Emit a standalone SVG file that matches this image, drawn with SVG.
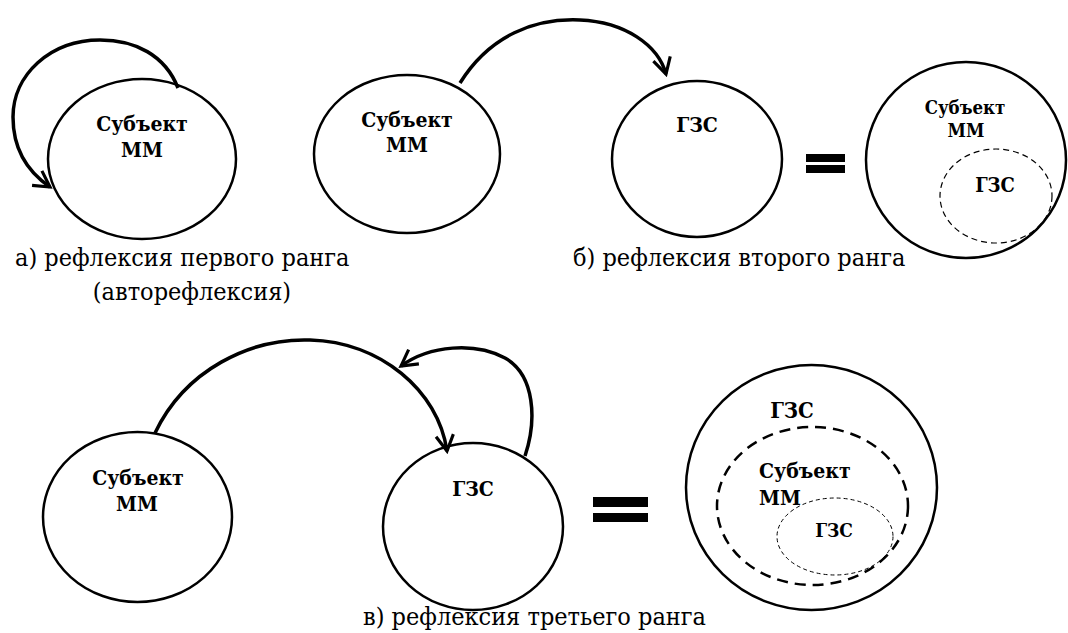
<svg xmlns="http://www.w3.org/2000/svg" width="1068" height="633" viewBox="0 0 1068 633">
<style>
.node{fill:#fff;stroke:#000;stroke-width:2.5}
.dash1{fill:none;stroke:#000;stroke-width:1.2;stroke-dasharray:6 4}
.dash2{fill:none;stroke:#000;stroke-width:2.5;stroke-dasharray:11 7}
.dash3{fill:none;stroke:#000;stroke-width:1;stroke-dasharray:4 3}
.lbl{font-family:'DejaVu Serif Condensed','DejaVu Serif',serif;font-stretch:condensed;font-weight:bold;font-size:21px;fill:#000;text-anchor:middle}
.lbls{font-family:'DejaVu Serif Condensed','DejaVu Serif',serif;font-stretch:condensed;font-weight:bold;font-size:21px;fill:#000}
.cap{font-family:'DejaVu Serif Condensed','DejaVu Serif',serif;font-stretch:condensed;font-size:25px;fill:#000}
.arr{fill:none;stroke:#000;stroke-width:3.5;marker-end:url(#ah)}
.eq{fill:#000}
</style>
<defs>
<marker id="ah" viewBox="0 0 12 12" refX="10" refY="6" markerWidth="6" markerHeight="6" orient="auto" markerUnits="strokeWidth">
<path d="M1,1 L10,6 L1,11" fill="none" stroke="#000" stroke-width="1.8"/>
</marker>
</defs>

<g id="a-subject">
<ellipse class="node" cx="142" cy="159" rx="94" ry="80"/>
<text class="lbl" x="142" y="131">Субъект</text>
<text class="lbl" x="142" y="157">ММ</text>
</g>

<g id="b-subject">
<ellipse class="node" cx="407" cy="154" rx="93" ry="79"/>
<text class="lbl" x="407" y="127">Субъект</text>
<text class="lbl" x="407" y="152">ММ</text>
</g>
<g id="b-gzs">
<ellipse class="node" cx="697" cy="159" rx="85" ry="78"/>
<text class="lbl" x="697" y="132">ГЗС</text>
</g>
<g id="b-equals">
<rect class="eq" x="806" y="154" width="39" height="8"/>
<rect class="eq" x="806" y="165" width="39" height="8"/>
</g>
<g id="b-result">
<ellipse class="node" cx="966" cy="160" rx="100" ry="98"/>
<text class="lbl" x="965" y="114" style="font-size:18.5px">Субъект</text>
<text class="lbl" x="966" y="137" style="font-size:18.5px">ММ</text>
<ellipse class="dash1" cx="996" cy="196" rx="56" ry="47"/>
<text class="lbl" x="995" y="192" style="font-size:20px">ГЗС</text>
</g>

<g id="c-subject">
<ellipse class="node" cx="137.5" cy="517" rx="94.5" ry="85"/>
<text class="lbl" x="138" y="485">Субъект</text>
<text class="lbl" x="137" y="511">ММ</text>
</g>
<g id="c-gzs">
<ellipse class="node" cx="473" cy="526.5" rx="90" ry="83.5"/>
<text class="lbl" x="473" y="496">ГЗС</text>
</g>
<g id="c-equals">
<rect class="eq" x="593" y="497" width="55" height="10"/>
<rect class="eq" x="593" y="513" width="55" height="9"/>
</g>
<g id="c-result">
<ellipse class="node" cx="811.5" cy="487.5" rx="125.5" ry="122.5"/>
<text class="lbl" x="792" y="418" style="font-size:22px">ГЗС</text>
<ellipse class="dash2" cx="812.5" cy="506" rx="95.5" ry="79"/>
<text class="lbls" x="759" y="478">Субъект</text>
<text class="lbls" x="759" y="505">ММ</text>
<ellipse class="dash3" cx="835" cy="536.5" rx="58" ry="38.5"/>
<text class="lbl" x="834" y="537" style="font-size:19px">ГЗС</text>
</g>

<g id="connectors">
<path class="arr" d="M178,88 C165,55 135,40 100,40 C50,40 13,75 13,117 C13,150 28,172 50,187"/>
<path class="arr" d="M460,83 C490,35 535,18 580,20 C625,22 658,45 666,74"/>
<path class="arr" d="M155,433 C185,370 250,338 310,340 C380,342 438,390 447,451"/>
<path class="arr" d="M525,456 C537,420 535,375 505,358 C475,342 430,345 401,366"/>
</g>

<g id="captions">
<text class="cap" x="15" y="266">а) рефлексия первого ранга</text>
<text class="cap" x="192" y="300" text-anchor="middle">(авторефлексия)</text>
<text class="cap" x="573" y="266">б) рефлексия второго ранга</text>
<text class="cap" x="363" y="625">в) рефлексия третьего ранга</text>
</g>
</svg>
